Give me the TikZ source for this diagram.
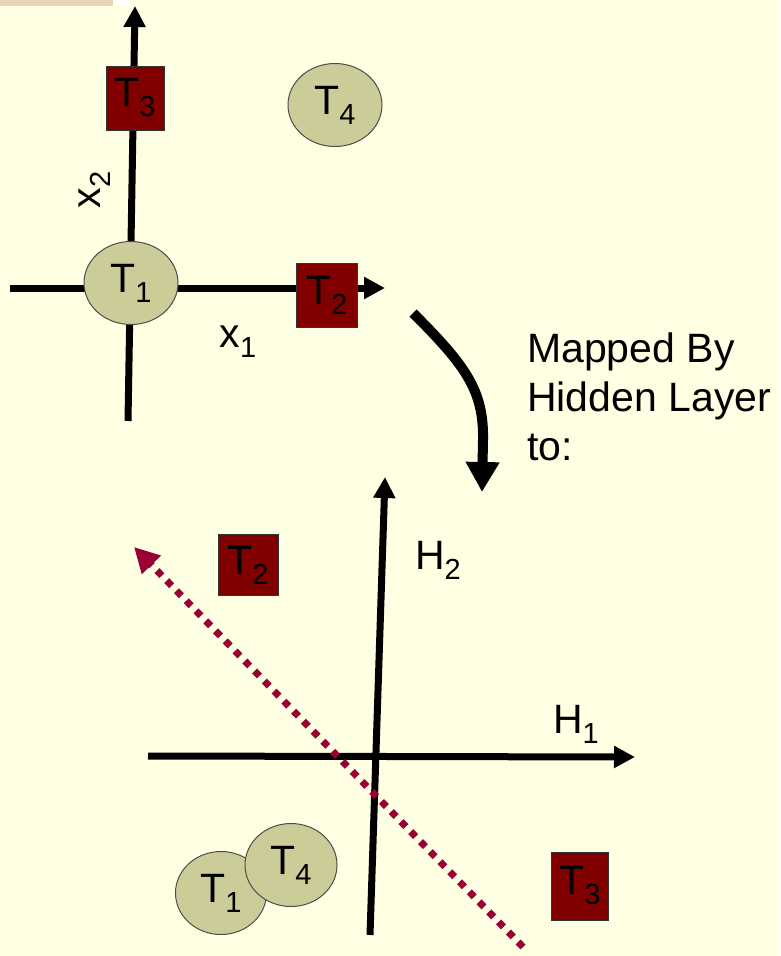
\documentclass[tikz,border=0pt]{standalone}
\usepackage{fontspec}
\setmainfont{Liberation Sans}
\usetikzlibrary{arrows.meta,shapes.geometric}
\definecolor{bg}{HTML}{FFFFE3}
\definecolor{boxred}{HTML}{800000}
\definecolor{circfill}{HTML}{CCCC99}
\definecolor{dotc}{HTML}{990033}
\definecolor{tan}{HTML}{E6D5B5}
\newcommand\Tlab[2]{#1\raisebox{-10pt}{\fontsize{29}{29}\selectfont #2}}
\begin{document}
\begin{tikzpicture}[x=1pt,y=-1pt,
  every node/.style={font=\fontsize{41}{49}\selectfont},
  axis/.style={line width=7pt,-{Triangle[width=21pt,length=21pt]}},
  sqbox/.style={rectangle,draw=black!80,line width=1pt,fill=boxred,inner sep=0pt,minimum width=58pt,minimum height=64pt},
  circ/.style={ellipse,draw=black!70,line width=1pt,fill=circfill,inner sep=0pt,minimum width=94pt,minimum height=83pt},
  lab/.style={inner sep=0pt}]
\useasboundingbox (0,0) rectangle (780,956);
\fill[bg] (0,0) rectangle (780,956);
\fill[tan] (0,0) rectangle (113,6);
\fill[white] (113,0) rectangle (130,6);

% top axes
\coordinate (vtop) at (135,6);
\coordinate (vbot) at (128,421);
\coordinate (hleft) at (10,288);
\coordinate (hright) at (385,288);
\draw[axis] (vbot) -- (vtop);
\draw[axis] (hleft) -- (hright);

\node[sqbox] (t3a) at (135,98) {\Tlab{T}{3}};
\node[circ] (t4a) at (335,105) {\Tlab{T}{4}};
\node[circ] (t1a) at (131,283) {\Tlab{T}{1}};
\node[sqbox,minimum width=61pt] (t2a) at (327,295) {\Tlab{T}{2}};
\node[lab] (x1) at (238,342) {\Tlab{x}{1}};
\node[lab,rotate=90] (x2) at (95,190) {\Tlab{x}{2}};

% curved arrow
\coordinate (cs) at (413,313);
\coordinate (ce) at (482,492);
\draw[line width=10pt,-{Triangle[width=32pt,length=30pt]}] (cs) .. controls (465,365) and (484,390) .. (483,440) -- (ce);
\node[lab,anchor=north west,align=left] (txt) at (527,333) {Mapped By\\Hidden Layer\\to:};

% bottom axes
\coordinate (btop) at (385,477);
\coordinate (bbot) at (370,935);
\coordinate (bleft) at (148,756);
\coordinate (bright) at (635,757);
\draw[axis] (bbot) -- (btop);
\draw[axis] (bleft) -- (bright);
\node[lab] (h2) at (438,560) {\Tlab{H}{2}};
\node[lab] (h1) at (576,724) {\Tlab{H}{1}};

% dotted separator
\coordinate (dstart) at (523,947);
\coordinate (dend) at (134,547);
\draw[dotc,line width=7pt,dash pattern=on 7pt off 7pt,-{Triangle[width=25pt,length=25pt]}] (dstart) -- (dend);

\node[sqbox,minimum width=60pt,minimum height=61pt] (t2b) at (248,565) {\Tlab{T}{2}};
\node[sqbox,minimum width=57pt,minimum height=68pt] (t3b) at (580,886) {\Tlab{T}{3}};
\node[circ,minimum width=91pt] (t1b) at (221,893) {\Tlab{T}{1}};
\node[circ,minimum width=92pt] (t4b) at (291,865) {\Tlab{T}{4}};
\end{tikzpicture}
\end{document}
